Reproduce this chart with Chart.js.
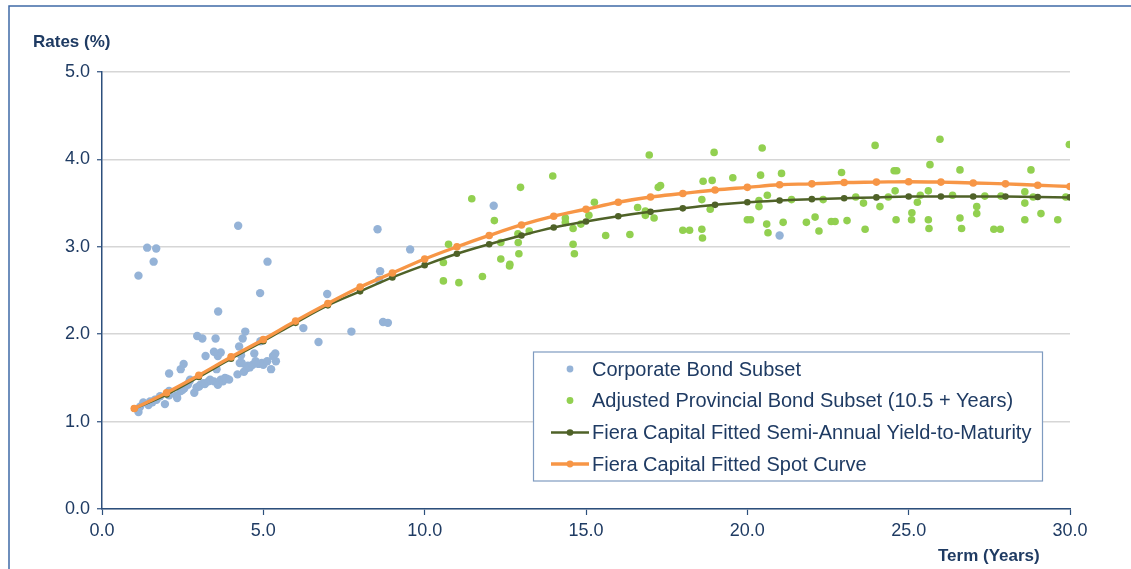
<!DOCTYPE html>
<html>
<head>
<meta charset="utf-8">
<script src="https://cdn.jsdelivr.net/npm/chart.js@4.4.1/dist/chart.umd.min.js"></script>
<style>
  html, body { margin: 0; padding: 0; background: #ffffff; }
  #wrap { position: relative; width: 1131px; height: 569px; }
</style>
</head>
<body>
<div id="wrap"><canvas id="chart" width="1131" height="569"></canvas></div>
<script>
// Fitted curve terms (years)
const curveTerms = [1,2,3,4,5,6,7,8,9,10,11,12,13,14,15,16,17,18,19,20,21,22,23,24,25,26,27,28,29,30];
// Fitted semi-annual yield-to-maturity (%)
const ytmRates = [1.15,1.31,1.51,1.72,1.92,2.13,2.33,2.49,2.65,2.79,2.92,3.03,3.13,3.22,3.29,3.35,3.40,3.44,3.48,3.51,3.53,3.545,3.555,3.565,3.575,3.575,3.575,3.575,3.57,3.565];
// Fitted spot curve (%)
const spotRates = [1.15,1.33,1.53,1.74,1.94,2.15,2.35,2.54,2.70,2.86,3.00,3.13,3.25,3.35,3.43,3.51,3.57,3.61,3.65,3.68,3.71,3.72,3.735,3.74,3.745,3.74,3.73,3.72,3.705,3.69];

// Corporate bond subset: term (years) and yield (%)
const corporateTerms = [1.13,1.18,1.28,1.44,1.49,1.56,1.64,1.69,1.80,1.95,2.08,2.08,2.31,2.33,2.44,2.49,2.55,2.66,2.71,2.73,2.86,2.93,3.01,3.04,3.14,3.19,3.30,3.35,3.47,3.59,3.68,3.75,3.81,3.87,3.94,
  2.08,2.44,2.53,3.55,4.20,4.27,4.33,4.40,4.48,4.52,4.58,4.67,4.76,4.85,4.95,5.00,5.12,5.24,5.39,5.30,5.37,4.72,3.21,3.59,3.68,3.47,4.31,
  2.95,3.11,3.52,4.25,4.36,4.44,4.91,3.60,4.90,5.13,4.22,1.13,1.40,1.60,1.68,
  6.24,6.71,6.98,7.73,8.54,8.62,8.58,8.71,8.86,9.55,12.14,21.0];
const corporateRates = [1.11,1.17,1.22,1.19,1.23,1.22,1.25,1.25,1.29,1.20,1.30,1.35,1.30,1.27,1.35,1.36,1.38,1.42,1.46,1.48,1.33,1.39,1.40,1.42,1.44,1.43,1.46,1.48,1.46,1.42,1.48,1.46,1.50,1.49,1.48,
  1.55,1.60,1.66,1.60,1.54,1.67,1.67,1.57,1.61,1.64,1.62,1.65,1.69,1.66,1.67,1.65,1.69,1.60,1.69,1.75,1.78,1.78,1.75,1.75,1.79,1.80,1.76,
  1.98,1.95,1.95,1.86,1.95,2.03,1.92,2.26,2.47,2.83,3.24,2.67,2.99,2.83,2.98,
  2.07,1.91,2.46,2.03,3.20,2.72,2.62,2.14,2.13,2.97,3.47,3.13];

// Adjusted provincial bond subset (10.5+ years): term (years) and yield (%)
const provincialTerms = [10.58,10.58,10.74,11.06,11.46,11.79,12.16,12.36,12.36,12.63,12.64,12.89,12.90,12.92,12.97,13.24,13.97,14.36,14.36,14.60,14.60,14.64,14.84,15.09,15.26,15.61,16.36,16.60,16.84,16.84,16.96,17.11,17.24,17.31,18.0,18.21,18.59,18.59,18.61,18.63,18.85,18.91,18.97,19.55,20.0,
  20.10,20.36,20.36,20.41,20.46,20.60,20.62,20.64,21.06,21.11,21.37,21.83,22.10,22.22,22.35,22.60,22.72,22.92,23.09,23.36,23.60,23.65,23.96,24.11,24.37,24.55,24.58,24.61,24.63,25.09,25.10,25.27,25.36,25.61,25.61,25.63,25.66,25.97,26.36,26.59,26.59,26.64,27.11,27.11,27.36,27.64,27.84,27.86,28.60,28.60,28.60,28.79,28.86,29.10,29.62,29.87,29.98];
const provincialRates = [2.61,2.82,3.03,2.59,3.55,2.66,3.30,3.05,2.86,2.78,2.80,3.15,3.05,2.92,3.68,3.18,3.81,3.33,3.28,3.21,3.03,2.92,3.26,3.36,3.51,3.13,3.14,3.45,3.41,3.36,4.05,3.33,3.68,3.70,3.19,3.19,3.54,3.20,3.10,3.75,3.43,3.76,4.08,3.79,3.31,
  3.31,3.53,3.46,3.82,4.13,3.26,3.59,3.16,3.84,3.28,3.54,3.28,3.34,3.18,3.54,3.29,3.29,3.85,3.30,3.57,3.50,3.20,4.16,3.46,3.57,3.87,3.64,3.31,3.87,3.31,3.39,3.51,3.59,3.64,3.31,3.21,3.94,4.23,3.59,3.88,3.33,3.21,3.46,3.38,3.58,3.20,3.20,3.58,3.63,3.50,3.31,3.88,3.57,3.38,3.31,3.57,4.17];

const xTicks = [0, 5, 10, 15, 20, 25, 30];
const yTicks = [0, 1, 2, 3, 4, 5];

const pairs = (xs, ys) => xs.map((x, i) => ({ x: x, y: ys[i] }));

const navy = '#1f3b63';
const axisBlue = '#2c4f7c';
const baseFont = '"Liberation Sans", Arial, sans-serif';

// Frame, axis titles and the boxed legend drawn on top of the plot
const decorations = {
  id: 'decorations',
  afterDraw(chart) {
    const ctx = chart.ctx;
    ctx.save();
    // outer frame (left and top edges)
    ctx.strokeStyle = '#3f6aa6';
    ctx.lineWidth = 1.5;
    ctx.beginPath();
    ctx.moveTo(9, 569);
    ctx.lineTo(9, 6);
    ctx.lineTo(1131, 6);
    ctx.stroke();

    // axis titles
    ctx.fillStyle = navy;
    ctx.font = 'bold 17px ' + baseFont;
    ctx.textBaseline = 'middle';
    ctx.textAlign = 'left';
    ctx.fillText('Rates (%)', 33, 42);
    ctx.fillText('Term (Years)', 938, 556);

    // legend box
    const bx = 533.5, by = 352, bw = 509, bh = 129;
    ctx.fillStyle = '#ffffff';
    ctx.fillRect(bx, by, bw, bh);
    ctx.strokeStyle = '#7f9bc0';
    ctx.lineWidth = 1.2;
    ctx.strokeRect(bx, by, bw, bh);

    const rows = [369, 400.5, 432.5, 464];
    const order = [0, 1, 2, 3];
    ctx.font = '20px ' + baseFont;
    order.forEach((di, r) => {
      const ds = chart.data.datasets[di];
      const y = rows[r];
      if (ds.showLine) {
        ctx.strokeStyle = ds.borderColor;
        ctx.lineWidth = ds.borderWidth;
        ctx.beginPath();
        ctx.moveTo(551, y);
        ctx.lineTo(589, y);
        ctx.stroke();
      }
      ctx.fillStyle = ds.pointBackgroundColor;
      ctx.beginPath();
      ctx.arc(570, y, Math.min(ds.pointRadius, 3.4), 0, Math.PI * 2);
      ctx.fill();
      ctx.fillStyle = navy;
      ctx.textAlign = 'left';
      ctx.fillText(ds.label, 592, y + 1);
    });
    ctx.restore();
  }
};

new Chart(document.getElementById('chart'), {
  type: 'line',
  data: {
    datasets: [
      {
        label: 'Corporate Bond Subset',
        data: pairs(corporateTerms, corporateRates),
        showLine: false,
        borderColor: '#95b3d7',
        backgroundColor: '#95b3d7',
        pointBackgroundColor: '#95b3d7',
        pointBorderWidth: 0,
        pointRadius: 4.2,
        order: 4
      },
      {
        label: 'Adjusted Provincial Bond Subset (10.5 + Years)',
        data: pairs(provincialTerms, provincialRates),
        showLine: false,
        borderColor: '#92d050',
        backgroundColor: '#92d050',
        pointBackgroundColor: '#92d050',
        pointBorderWidth: 0,
        pointRadius: 3.8,
        order: 3
      },
      {
        label: 'Fiera Capital Fitted Semi-Annual Yield-to-Maturity',
        data: pairs(curveTerms, ytmRates),
        showLine: true,
        borderColor: '#4f6228',
        backgroundColor: '#4f6228',
        pointBackgroundColor: '#4f6228',
        pointBorderWidth: 0,
        borderWidth: 2.5,
        pointRadius: 3.3,
        tension: 0.4,
        order: 2
      },
      {
        label: 'Fiera Capital Fitted Spot Curve',
        data: pairs(curveTerms, spotRates),
        showLine: true,
        borderColor: '#f79646',
        backgroundColor: '#f79646',
        pointBackgroundColor: '#f79646',
        pointBorderWidth: 0,
        borderWidth: 3.4,
        pointRadius: 3.8,
        tension: 0.4,
        order: 1
      }
    ]
  },
  options: {
    responsive: false,
    animation: false,
    layout: { padding: { top: 72, right: 61, left: 0, bottom: 0 } },
    plugins: {
      legend: { display: false },
      title: { display: false },
      tooltip: { enabled: false }
    },
    scales: {
      x: {
        type: 'linear',
        min: 0,
        max: 30,
        afterFit(scale) { scale.height = 60; },
        afterBuildTicks(scale) { scale.ticks = xTicks.map(v => ({ value: v })); },
        border: { display: true, color: axisBlue, width: 1.5 },
        grid: { drawOnChartArea: false, drawTicks: true, tickLength: 6, tickColor: axisBlue, tickWidth: 1.2 },
        ticks: {
          color: navy,
          padding: 5,
          maxRotation: 0,
          font: { family: baseFont, size: 18 },
          callback: v => Number(v).toFixed(1)
        }
      },
      y: {
        min: 0,
        max: 5,
        afterFit(scale) { scale.width = 102; },
        afterBuildTicks(scale) { scale.ticks = yTicks.map(v => ({ value: v })); },
        border: { display: true, color: axisBlue, width: 1.5 },
        grid: { color: '#d6d6d6', lineWidth: 1.5, drawTicks: true, tickLength: 5, tickColor: axisBlue, tickWidth: 1.2 },
        ticks: {
          color: navy,
          padding: 7,
          font: { family: baseFont, size: 18 },
          callback: v => Number(v).toFixed(1)
        }
      }
    }
  },
  plugins: [decorations]
});
</script>
</body>
</html>
